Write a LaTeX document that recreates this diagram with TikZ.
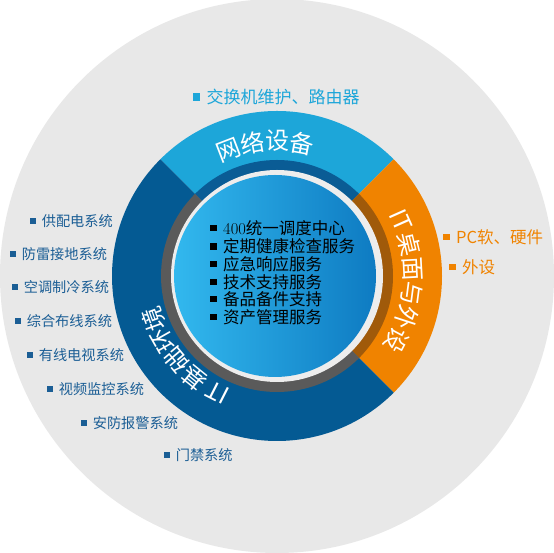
\documentclass[tikz,border=0pt]{standalone}
\usepackage{fontspec}
\newfontfamily\cjk{Noto Sans CJK SC}
\definecolor{bgray}{HTML}{E8E8E8}
\definecolor{lblue}{HTML}{1DA6D9}
\definecolor{dblue}{HTML}{045A93}
\definecolor{orng}{HTML}{F08300}
\definecolor{brwn}{HTML}{A05A0A}
\definecolor{dgray}{HTML}{5A5A5A}
\definecolor{dkband}{HTML}{0A5C95}
\definecolor{labblue}{HTML}{1B5E95}
\definecolor{discL}{HTML}{32B8EE}
\definecolor{discR}{HTML}{0E7BC2}
\definecolor{ringw}{HTML}{EDEDED}
\newcommand\bsq[1]{{\color{#1}\rule[0.17em]{0.42em}{0.42em}}\hspace{0.4em}}
\tikzset{
  ringtxt/.style={text=white, font=\cjk\fontsize{24}{24}\selectfont, inner sep=0pt},
  svc/.style={anchor=west, inner sep=0pt, font=\cjk\fontsize{16.5}{18}\selectfont, text=black},
  sysl/.style={anchor=west, inner sep=0pt, font=\cjk\fontsize{14.2}{16}\selectfont, text=labblue},
  netl/.style={anchor=west, inner sep=0pt, font=\cjk\fontsize{17}{18}\selectfont, text=lblue},
  pcl/.style={anchor=west, inner sep=0pt, font=\cjk\fontsize{16.5}{18}\selectfont, text=orng}
}
\begin{document}
\begin{tikzpicture}[x=1pt,y=1pt]
\useasboundingbox (0,0) rectangle (554,553);
\fill[white] (0,0) rectangle (554,553);
\coordinate (C) at (277,277);
\fill[bgray] (C) circle (277);
% outer sectors
\fill[lblue] (C) -- ++(45:165) arc (45:135:165) -- cycle;
\fill[orng] (C) -- ++(-45:165) arc (-45:45:165) -- cycle;
\fill[dblue] (C) -- ++(135:165) arc (135:315:165) -- cycle;
% inner dark band
\fill[dkband] (C) -- ++(45:116) arc (45:135:116) -- cycle;
\fill[brwn] (C) -- ++(-45:116) arc (-45:45:116) -- cycle;
\fill[dgray] (C) -- ++(135:116) arc (135:315:116) -- cycle;
% white ring and disc
\fill[ringw] (C) circle (106);
\shade[left color=discL, right color=discR] (275,277) circle (101);
% ring labels
\foreach \ch/\a [count=\i] in {网/111,络/100.5,设/90,备/79.5}
  \node[ringtxt, rotate=\a-90] (top\i) at ([shift={(\a:135)}]C) {\ch};
\foreach \ch/\a [count=\i] in {IT/24,桌/13.5,面/3,与/-7.5,外/-18,设/-28}
  \node[ringtxt, rotate=\a-90] (rt\i) at ([shift={(\a:136)}]C) {\ch};
\foreach \ch/\a [count=\i] in {IT/243,基/231,础/220,环/209.5,境/199.5}
  \node[ringtxt, rotate=\a-90] (lf\i) at ([shift={(\a:131)}]C) {\ch};
% services
\node[svc] (s1) at (209.5,325) {\bsq{black}{\rmfamily 400}统一调度中心};
\node[svc] (s2) at (209.5,307) {\bsq{black}定期健康检查服务};
\node[svc] (s3) at (209.5,289) {\bsq{black}应急响应服务};
\node[svc] (s4) at (209.5,271) {\bsq{black}技术支持服务};
\node[svc] (s5) at (209.5,254) {\bsq{black}备品备件支持};
\node[svc] (s6) at (209.5,236) {\bsq{black}资产管理服务};
% outer labels
\node[netl] (net) at (192.5,456) {\bsq{lblue}交换机维护、路由器};
\node[pcl] (pc1) at (442.5,316) {\bsq{orng}PC软、硬件};
\node[pcl] (pc2) at (448.5,286) {\bsq{orng}外设};
\node[sysl] (y1) at (30,332) {\bsq{labblue}供配电系统};
\node[sysl] (y2) at (10,299) {\bsq{labblue}防雷接地系统};
\node[sysl] (y3) at (12,266) {\bsq{labblue}空调制冷系统};
\node[sysl] (y4) at (15,232) {\bsq{labblue}综合布线系统};
\node[sysl] (y5) at (27,198) {\bsq{labblue}有线电视系统};
\node[sysl] (y6) at (47,164) {\bsq{labblue}视频监控系统};
\node[sysl] (y7) at (81,130) {\bsq{labblue}安防报警系统};
\node[sysl] (y8) at (164,98) {\bsq{labblue}门禁系统};
\end{tikzpicture}
\end{document}
